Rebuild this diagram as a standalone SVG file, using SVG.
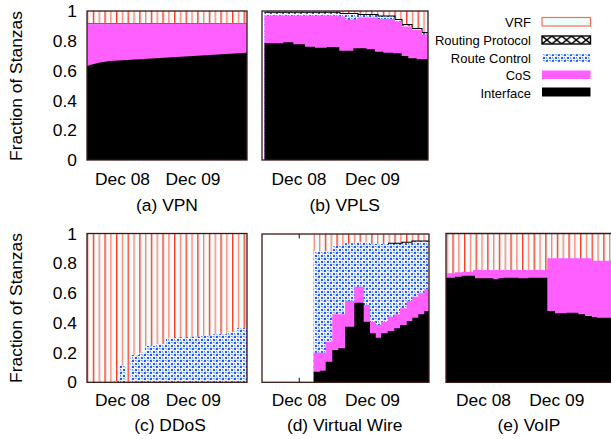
<svg xmlns="http://www.w3.org/2000/svg" width="611" height="439" viewBox="0 0 611 439">
<style>
text{font-family:"Liberation Sans",Arial,sans-serif;fill:#000}
.ax{font-size:17.4px}
.yl{font-size:17.4px;text-anchor:end}
.xl{font-size:17.4px;text-anchor:middle}
.lg{font-size:13px;text-anchor:end}
.frame{fill:none;stroke:#3a1818;stroke-width:1.3}
.vrf{fill:url(#vrf)}
.rc{fill:url(#rc)}
.cos{fill:#ff5fff}
.itf{fill:#000}
.rp{fill:none;stroke:#000;stroke-width:1.1}
</style>
<defs>
<pattern id="vrf" patternUnits="userSpaceOnUse" x="0" y="0" width="11.6" height="10">
<rect width="11.6" height="10" fill="#effdfd"/>
<rect x="0" y="0" width="1.4" height="10" fill="#ff3a22"/>
<rect x="5.8" y="0" width="1.4" height="10" fill="#ff8575"/>
</pattern>
<pattern id="rc" patternUnits="userSpaceOnUse" x="0" y="0" width="6" height="6">
<rect width="6" height="6" fill="#eef4ff"/>
<rect x="0" y="0" width="2" height="2" fill="#1f5cff"/>
<rect x="3" y="3" width="2" height="2" fill="#1f5cff"/>
<rect x="3" y="0" width="1.5" height="1" fill="#5a88ff"/>
<rect x="0" y="3" width="1" height="1.5" fill="#5a88ff"/>
<rect x="1" y="4.5" width="1" height="1" fill="#8fb0ff"/>
<rect x="4.5" y="1" width="1" height="1" fill="#8fb0ff"/>
</pattern>
<pattern id="rp" patternUnits="userSpaceOnUse" x="542" y="36" width="9.8" height="8">
<rect width="9.8" height="8" fill="#fff"/>
<path d="M0 0L9.8 8M9.8 0L0 8" stroke="#000" stroke-width="1.4"/>
</pattern>
</defs>

<!-- y axis titles -->
<text class="ax" transform="translate(22,86) rotate(-90)" text-anchor="middle">Fraction of Stanzas</text>
<text class="ax" transform="translate(22,308) rotate(-90)" text-anchor="middle">Fraction of Stanzas</text>

<!-- Panel (a) VPN -->
<g id="panel-a">
<rect class="vrf" x="87" y="11" width="160" height="149"/>
<rect x="87" y="23" width="160" height="1.4" fill="#3d6bff"/>
<polygon class="cos" points="87,160 87,24.2 247,23.8 247,160"/>
<polygon class="itf" points="87,160 87,66 92,64.5 100,62.5 110,61 247,52.7 247,160"/>
<rect class="frame" x="87" y="11" width="160" height="149"/>
<g class="yl">
<text x="77" y="17.2">1</text>
<text x="77" y="47">0.8</text>
<text x="77" y="76.8">0.6</text>
<text x="77" y="106.6">0.4</text>
<text x="77" y="136.4">0.2</text>
<text x="77" y="166.2">0</text>
</g>
<text class="xl" x="122.5" y="185">Dec 08</text>
<text class="xl" x="193" y="185">Dec 09</text>
<text class="xl" x="167" y="210.5">(a) VPN</text>
</g>

<!-- Panel (b) VPLS -->
<g id="panel-b">
<rect x="262" y="11" width="166" height="149" fill="#fff"/>
<rect class="vrf" x="264.5" y="11" width="163.5" height="149"/>
<polygon class="rc" points="264.5,160 264.5,12.3 340,12.3 340,13.5 358,13.5 358,14.5 378,14.5 378,16 395,16 395,19.5 402,19.5 402,24.5 412,24.5 412,28.5 422,28.5 422,32.5 428,32.5 428,160"/>
<polyline class="rp" points="264.5,12.3 340,12.3 340,13.5 358,13.5 358,14.5 378,14.5 378,16 395,16 395,19.5 402,19.5 402,24.5 412,24.5 412,28.5 422,28.5 422,32.5 428,32.5"/>
<polygon class="cos" points="264.5,160 264.5,15.5 340,15.5 340,16.5 345,16.5 345,19.5 358,19.5 358,17.5 378,17.5 378,19 395,19 395,21.5 402,21.5 402,26.5 412,26.5 412,30 422,30 422,34.5 428,34.5 428,160"/>
<polygon class="itf" points="264.5,160 264.5,43.3 283.3,43.3 283.3,42.3 293.3,42.3 293.3,44.3 305,44.3 305,46.7 315,46.7 315,47.7 326.7,47.7 326.7,47 339.3,47 339.3,50.7 353.3,50.7 353.3,48.3 366.7,48.3 366.7,49.3 375,49.3 375,51.7 383.3,51.7 383.3,52.7 393.3,52.7 393.3,53.3 401.7,53.3 401.7,56 408.3,56 408.3,58.3 416.7,58.3 416.7,59.3 428,59.3 428,160"/>
<rect class="frame" x="262" y="11" width="166" height="149"/>
<text class="xl" x="299" y="185">Dec 08</text>
<text class="xl" x="372.5" y="185">Dec 09</text>
<text class="xl" x="344.7" y="210.5">(b) VPLS</text>
</g>

<!-- Legend -->
<g id="legend">
<text class="lg" x="531" y="26.5">VRF</text>
<rect x="542" y="17.5" width="48.5" height="8.5" fill="#effdfd" stroke="#ff6a58" stroke-width="1.2"/>
<text class="lg" x="531" y="44.5">Routing Protocol</text>
<rect x="542" y="36" width="48.5" height="8" fill="url(#rp)" stroke="#000" stroke-width="1.4"/>
<text class="lg" x="531" y="62.7">Route Control</text>
<rect x="542" y="54.2" width="48.5" height="7.6" fill="url(#rc)"/>
<text class="lg" x="531" y="80">CoS</text>
<rect x="542" y="70.5" width="48.5" height="8.5" fill="#ff5fff"/>
<text class="lg" x="531" y="97.5">Interface</text>
<rect x="542" y="87.5" width="48.5" height="9" fill="#000"/>
</g>

<!-- Panel (c) DDoS -->
<g id="panel-c">
<rect class="vrf" x="87" y="233.5" width="160" height="148.8"/>
<polygon class="rc" points="113.3,382.3 113.3,381.3 119.3,381.3 119.3,365.7 126,365.7 126,382.3"/>
<polygon class="rc" points="130.7,382.3 130.7,355 139.3,355 139.3,352.7 145,352.7 145,346 155,346 155,344 166,344 166,338.3 175,338.3 175,337.3 190,337.3 190,336.7 200,336.7 200,335.7 213.3,335.7 213.3,334.3 226.7,334.3 226.7,331.7 236.7,331.7 236.7,328.3 247,328.3 247,382.3"/>
<rect class="frame" x="87" y="233.5" width="160" height="148.8"/>
<g class="yl">
<text x="77" y="239.5">1</text>
<text x="77" y="269.3">0.8</text>
<text x="77" y="299">0.6</text>
<text x="77" y="328.8">0.4</text>
<text x="77" y="358.5">0.2</text>
<text x="77" y="388.3">0</text>
</g>
<text class="xl" x="122.5" y="406">Dec 08</text>
<text class="xl" x="193.3" y="406">Dec 09</text>
<text class="xl" x="170" y="430.5">(c) DDoS</text>
</g>

<!-- Panel (d) Virtual Wire -->
<g id="panel-d">
<rect x="262" y="234" width="167" height="148.3" fill="#fff"/>
<rect class="vrf" x="313.7" y="234" width="115.3" height="148.3"/>
<polygon class="rc" points="313.7,382.3 313.7,251 332.3,251 332.3,245.7 345,245.7 345,243.3 355,243.3 355,242.3 370,242.3 370,244 388,244 388,243.3 402,243.3 402,242.3 412,242.3 412,241 429,241 429,382.3"/>
<polyline class="rp" points="388,243.3 402,243.3 402,242.3 412,242.3 412,241 429,241"/>
<polygon class="cos" points="313.7,382.3 313.7,352.7 325.7,352.7 325.7,341.7 332.3,341.7 332.3,314.3 345,314.3 345,301 354.3,301 354.3,286.7 363.7,286.7 363.7,305 370,305 370,321.7 375.7,321.7 375.7,325 381,325 381,321.7 387.7,321.7 387.7,316.7 394.3,316.7 394.3,314.3 400,314.3 400,308.3 406.7,308.3 406.7,301 412.3,301 412.3,296.7 418.3,296.7 418.3,293.3 424.3,293.3 424.3,289 429,289 429,382.3"/>
<polygon class="itf" points="313.7,382.3 313.7,371.7 320,371.7 320,370.7 325.7,370.7 325.7,361.7 332.3,361.7 332.3,350 338.3,350 338.3,348.3 345,348.3 345,326.7 354.3,326.7 354.3,302.7 363.7,302.7 363.7,321.7 370,321.7 370,333.3 375.7,333.3 375.7,337.7 381,337.7 381,333.3 387.7,333.3 387.7,331 394.3,331 394.3,328.3 400,328.3 400,325 406.7,325 406.7,321 412.3,321 412.3,317.7 418.3,317.7 418.3,314.3 424.3,314.3 424.3,311 429,311 429,382.3"/>
<line x1="299.3" y1="234" x2="299.3" y2="238.5" stroke="#444" stroke-width="1.3"/>
<line x1="299.3" y1="377.8" x2="299.3" y2="382.3" stroke="#444" stroke-width="1.3"/>
<rect class="frame" x="262" y="234" width="167" height="148.3"/>
<text class="xl" x="299.2" y="406">Dec 08</text>
<text class="xl" x="372.5" y="406">Dec 09</text>
<text class="xl" x="344.7" y="430.5">(d) Virtual Wire</text>
</g>

<!-- Panel (e) VoIP -->
<g id="panel-e">
<rect class="vrf" x="446" y="233.5" width="166" height="148.8"/>
<polygon class="cos" points="446,382.3 446,273.3 455,273.3 455,272.3 461.7,272.3 461.7,271.7 473,271.7 473,270 547.3,270 547.3,258.3 591.7,258.3 591.7,260.7 612,260.7 612,382.3"/>
<polygon class="itf" points="446,382.3 446,277.7 455,277.7 455,276.7 461.7,276.7 461.7,275.7 475,275.7 475,278.3 493.3,278.3 493.3,279.3 498.3,279.3 498.3,278.3 503.3,278.3 503.3,277.7 518.3,277.7 518.3,278.3 528.3,278.3 528.3,277.7 547.3,277.7 547.3,311 555,311 555,313.3 566.7,313.3 566.7,312.7 578.3,312.7 578.3,314.3 585,314.3 585,316 591.7,316 591.7,317 596.7,317 596.7,317.7 612,317.7 612,382.3"/>
<polyline class="frame" points="612,233.5 446,233.5 446,382.3 612,382.3"/>
<text class="xl" x="483.5" y="406">Dec 08</text>
<text class="xl" x="556.8" y="406">Dec 09</text>
<text class="xl" x="529" y="430.5">(e) VoIP</text>
</g>
</svg>
